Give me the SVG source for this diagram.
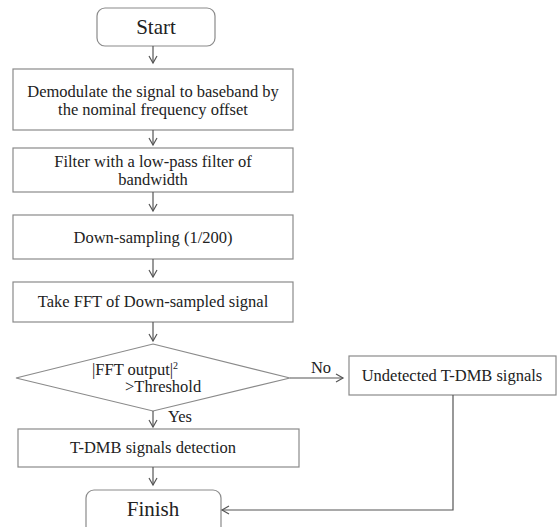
<svg xmlns="http://www.w3.org/2000/svg" width="557" height="527" viewBox="0 0 557 527">
<style>
.box{fill:#fff;stroke:#8a8a8a;stroke-width:1.2}
.t{font-family:"Liberation Serif","DejaVu Serif",serif;font-size:16.5px;fill:#222;text-anchor:middle}
.big{font-size:21px}
.c{fill:none;stroke:#555;stroke-width:1.2}
</style>
<defs>
<marker id="a" markerWidth="12" markerHeight="12" refX="9" refY="5" orient="auto" markerUnits="userSpaceOnUse">
<polyline points="2,1 9,5 2,9" fill="none" stroke="#555" stroke-width="1.2"/>
</marker>
</defs>
<g id="start"><rect class="box" x="97" y="8" width="118" height="38" rx="8"/><text class="t big" x="156" y="34">Start</text></g>
<g id="demod"><rect class="box" x="13" y="69" width="280" height="61"/><text class="t" x="153" y="97">Demodulate the signal to baseband by</text><text class="t" x="153" y="115">the nominal frequency offset</text></g>
<g id="filter"><rect class="box" x="13" y="148" width="280" height="44"/><text class="t" x="153" y="167">Filter with a low-pass filter of</text><text class="t" x="153" y="185">bandwidth</text></g>
<g id="down"><rect class="box" x="13" y="215" width="280" height="44"/><text class="t" x="153" y="243">Down-sampling (1/200)</text></g>
<g id="fft"><rect class="box" x="13" y="282" width="280" height="40"/><text class="t" x="153" y="307">Take FFT of Down-sampled signal</text></g>
<g id="decision"><polygon class="box" points="153,344 290,378 153,411 16,378"/><text class="t" x="92" y="375" style="text-anchor:start">|FFT output|<tspan font-size="10" dy="-6">2</tspan></text><text class="t" x="125" y="392" style="text-anchor:start">&gt;Threshold</text></g>
<g id="undetected"><rect class="box" x="349" y="356" width="207" height="39"/><text class="t" x="452" y="381">Undetected T-DMB signals</text></g>
<g id="detect"><rect class="box" x="18" y="429" width="281" height="38"/><text class="t" x="153" y="453">T-DMB signals detection</text></g>
<g id="finish"><rect class="box" x="86" y="490" width="135" height="45" rx="8"/><text class="t big" x="153" y="516">Finish</text></g>
<g id="connectors">
<line class="c" x1="153" y1="46" x2="153" y2="63" marker-end="url(#a)"/>
<line class="c" x1="153" y1="130" x2="153" y2="145" marker-end="url(#a)"/>
<line class="c" x1="153" y1="192" x2="153" y2="211" marker-end="url(#a)"/>
<line class="c" x1="153" y1="259" x2="153" y2="277" marker-end="url(#a)"/>
<line class="c" x1="153" y1="322" x2="153" y2="341" marker-end="url(#a)"/>
<line class="c" x1="290" y1="378" x2="343" y2="378" marker-end="url(#a)"/>
<line class="c" x1="153" y1="411" x2="153" y2="427" marker-end="url(#a)"/>
<line class="c" x1="153" y1="467" x2="153" y2="485" marker-end="url(#a)"/>
<polyline class="c" points="453,395 453,510 222,510" marker-end="url(#a)"/>
<text class="t" x="321" y="373">No</text>
<text class="t" x="180" y="422">Yes</text>
</g>
</svg>
